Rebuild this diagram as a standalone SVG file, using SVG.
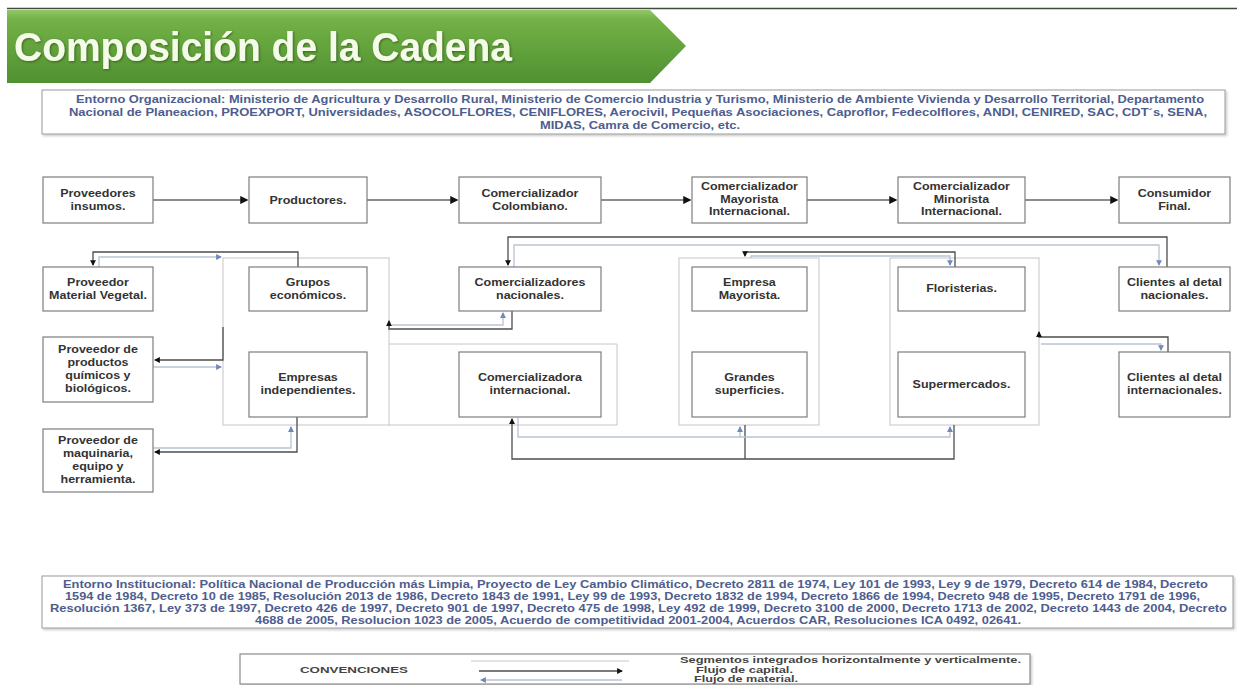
<svg xmlns="http://www.w3.org/2000/svg" width="1237" height="685" viewBox="0 0 1237 685">
<defs>
<linearGradient id="g" x1="0" y1="0" x2="0" y2="1">
<stop offset="0" stop-color="#93c76a"/>
<stop offset="0.12" stop-color="#74b247"/>
<stop offset="1" stop-color="#4f9030"/>
</linearGradient>
<filter id="ts" x="-5%" y="-20%" width="110%" height="140%"><feDropShadow dx="1" dy="1" stdDeviation="0.8" flood-color="#2b4a17" flood-opacity="0.7"/></filter>
<filter id="bs" x="-5%" y="-20%" width="110%" height="140%"><feDropShadow dx="1.5" dy="1.5" stdDeviation="1" flood-color="#000" flood-opacity="0.22"/></filter>
<marker id="cap" viewBox="0 0 6 6" refX="5" refY="3" markerWidth="4.5" markerHeight="4.5" orient="auto"><path d="M0,0 L6,3 L0,6 z" fill="#111"/></marker>
<marker id="mat" viewBox="0 0 6 6" refX="5" refY="3" markerWidth="4.5" markerHeight="4.5" orient="auto"><path d="M0,0 L6,3 L0,6 z" fill="#6f89b9"/></marker>
<style>
.n rect{fill:#fff;stroke:#7d7d7d;stroke-width:1.2}
.n text{font-family:"Liberation Sans",Arial,sans-serif;font-weight:bold;font-size:10px;fill:#333;text-anchor:middle;transform-box:fill-box;transform-origin:center;transform:scaleX(1.25)}
.k{fill:none;stroke:#c6c6c6;stroke-width:1}
.cap{fill:none;stroke:#4d4d4d;stroke-width:1.3;marker-end:url(#cap)}
.capn{fill:none;stroke:#4d4d4d;stroke-width:1.3}
.mat{fill:none;stroke:#b9c3d3;stroke-width:1.3;marker-end:url(#mat)}
.flow{fill:none;stroke:#8c8c8c;stroke-width:1.8;marker-end:url(#cap)}
.env rect{fill:#fff;stroke:#9a9a9a;stroke-width:1}
.env text{font-family:"Liberation Sans",Arial,sans-serif;font-weight:bold;font-size:10px;fill:#4e5d8e;text-anchor:middle}
.lg text{font-family:"Liberation Sans",Arial,sans-serif;font-weight:bold;font-size:8.3px;fill:#444}
</style>
</defs>
<rect width="1237" height="685" fill="#fff"/>

<g id="title">
<line x1="7" y1="8.5" x2="1237" y2="8.5" stroke="#3f4d3a" stroke-width="1.5"/>
<polygon points="7,10 650,10 686,46 650,83 7,83" fill="url(#g)"/>
<text x="14" y="61" font-family="'Liberation Sans',Arial,sans-serif" font-weight="bold" font-size="40" fill="#f4fbe8" textLength="498" lengthAdjust="spacingAndGlyphs" filter="url(#ts)">Composición de la Cadena</text>
</g>

<g id="entorno-organizacional" class="env">
<rect x="42" y="90" width="1183" height="44" filter="url(#bs)"/>
<text x="640" y="103" textLength="1128" lengthAdjust="spacingAndGlyphs">Entorno Organizacional: Ministerio de Agricultura y Desarrollo Rural, Ministerio de Comercio Industria y Turismo, Ministerio de Ambiente Vivienda y Desarrollo Territorial, Departamento</text>
<text x="638" y="116" textLength="1138" lengthAdjust="spacingAndGlyphs">Nacional de Planeacion, PROEXPORT, Universidades, ASOCOLFLORES, CENIFLORES, Aerocivil, Pequeñas Asociaciones, Caproflor, Fedecolflores, ANDI, CENIRED, SAC, CDT´s, SENA,</text>
<text x="640" y="129" textLength="200" lengthAdjust="spacingAndGlyphs">MIDAS, Camra de Comercio, etc.</text>
</g>

<g id="containers">
<rect class="k" x="223" y="258" width="166" height="167"/>
<polyline class="k" points="389,344 617,344 617,425 389,425"/>
<rect class="k" x="679" y="258" width="140" height="167"/>
<rect class="k" x="890" y="258" width="149" height="167"/>
</g>

<g id="connectors">
<path class="flow" d="M153 200 H247"/>
<path class="flow" d="M367 200 H457"/>
<path class="flow" d="M601 200 H690"/>
<path class="flow" d="M807 200 H896"/>
<path class="flow" d="M1025 200 H1117"/>

<path class="cap" d="M298 267 V252 H93 V265"/>
<path class="mat" d="M99 267 V257 H221"/>
<path class="cap" d="M223 327 V360 H155"/>
<path class="mat" d="M153 367 H221"/>
<path class="cap" d="M297 417 V452 H155"/>
<path class="mat" d="M153 448 H291 V427"/>
<path class="cap" d="M512 311 V329 H389 V321"/>
<path class="mat" d="M392 325 H503 V313"/>
<path class="cap" d="M1167 267 V237 H508 V265"/>
<path class="mat" d="M514 267 V245 H1159 V265"/>
<path class="cap" d="M955 267 V252 H745 V256"/>
<path class="mat" d="M751 258 V256 H950 V265"/>
<path class="cap" d="M1168 352 V337 H1039 V332"/>
<path class="mat" d="M1041 344 H1161 V350"/>
<path class="cap" d="M954 425 V459 H512 V419"/>
<path class="capn" d="M745 425 V459"/>
<path class="mat" d="M518 418 V437 H950 V427"/>
<path class="mat" d="M740 437 V427"/>
</g>

<g id="n-proveedores-insumos" class="n"><rect x="43" y="177" width="110" height="46"/><text x="98" y="197">Proveedores</text><text x="98" y="210">insumos.</text></g>
<g id="n-productores" class="n"><rect x="249" y="177" width="118" height="46"/><text x="308" y="204">Productores.</text></g>
<g id="n-comercializador-colombiano" class="n"><rect x="459" y="177" width="142" height="46"/><text x="530" y="197">Comercializador</text><text x="530" y="210">Colombiano.</text></g>
<g id="n-mayorista-int" class="n"><rect x="692" y="177" width="115" height="46"/><text x="749.5" y="190.5">Comercializador</text><text x="749.5" y="203">Mayorista</text><text x="749.5" y="215.5">Internacional.</text></g>
<g id="n-minorista-int" class="n"><rect x="898" y="177" width="127" height="46"/><text x="961.5" y="190.5">Comercializador</text><text x="961.5" y="203">Minorista</text><text x="961.5" y="215.5">Internacional.</text></g>
<g id="n-consumidor-final" class="n"><rect x="1119" y="177" width="111" height="46"/><text x="1174.5" y="197">Consumidor</text><text x="1174.5" y="210">Final.</text></g>

<g id="n-proveedor-mv" class="n"><rect x="43" y="267" width="110" height="44"/><text x="98" y="286">Proveedor</text><text x="98" y="299">Material Vegetal.</text></g>
<g id="n-grupos" class="n"><rect x="249" y="267" width="118" height="44"/><text x="308" y="286">Grupos</text><text x="308" y="299">económicos.</text></g>
<g id="n-com-nacionales" class="n"><rect x="459" y="267" width="142" height="44"/><text x="530" y="286">Comercializadores</text><text x="530" y="299">nacionales.</text></g>
<g id="n-empresa-mayorista" class="n"><rect x="692" y="267" width="115" height="44"/><text x="749.5" y="286">Empresa</text><text x="749.5" y="299">Mayorista.</text></g>
<g id="n-floristerias" class="n"><rect x="898" y="267" width="127" height="44"/><text x="961.5" y="292.5">Floristerias.</text></g>
<g id="n-clientes-nac" class="n"><rect x="1119" y="267" width="111" height="44"/><text x="1174.5" y="286">Clientes al detal</text><text x="1174.5" y="299">nacionales.</text></g>

<g id="n-proveedor-quimicos" class="n"><rect x="43" y="337" width="110" height="65"/><text x="98" y="353.5">Proveedor de</text><text x="98" y="366.5">productos</text><text x="98" y="379.5">químicos y</text><text x="98" y="392.5">biológicos.</text></g>
<g id="n-empresas-ind" class="n"><rect x="249" y="352" width="118" height="65"/><text x="308" y="381">Empresas</text><text x="308" y="394">independientes.</text></g>
<g id="n-com-internacional" class="n"><rect x="459" y="352" width="142" height="65"/><text x="530" y="381">Comercializadora</text><text x="530" y="394">internacional.</text></g>
<g id="n-grandes" class="n"><rect x="692" y="352" width="115" height="65"/><text x="749.5" y="381">Grandes</text><text x="749.5" y="394">superficies.</text></g>
<g id="n-supermercados" class="n"><rect x="898" y="352" width="127" height="65"/><text x="961.5" y="388">Supermercados.</text></g>
<g id="n-clientes-int" class="n"><rect x="1119" y="352" width="111" height="65"/><text x="1174.5" y="381">Clientes al detal</text><text x="1174.5" y="394">internacionales.</text></g>

<g id="n-proveedor-maquinaria" class="n"><rect x="43" y="429" width="110" height="63"/><text x="98" y="444.5">Proveedor de</text><text x="98" y="457.5">maquinaria,</text><text x="98" y="470.5">equipo y</text><text x="98" y="483.5">herramienta.</text></g>

<g id="entorno-institucional" class="env">
<rect x="42" y="576" width="1191" height="52" filter="url(#bs)"/>
<text x="635.5" y="588" textLength="1145" lengthAdjust="spacingAndGlyphs">Entorno Institucional: Política Nacional de Producción más Limpia, Proyecto de Ley Cambio Climático, Decreto 2811 de 1974, Ley 101 de 1993, Ley 9 de 1979, Decreto 614 de 1984,  Decreto</text>
<text x="632.5" y="600" textLength="1135" lengthAdjust="spacingAndGlyphs">1594 de 1984, Decreto 10 de 1985, Resolución 2013 de 1986, Decreto 1843 de 1991, Ley 99 de 1993, Decreto 1832 de 1994, Decreto 1866 de 1994, Decreto 948 de 1995, Decreto 1791 de 1996,</text>
<text x="638.5" y="612" textLength="1177" lengthAdjust="spacingAndGlyphs">Resolución 1367, Ley 373 de 1997, Decreto 426 de 1997, Decreto 901 de 1997, Decreto 475 de 1998, Ley 492 de 1999, Decreto 3100 de 2000, Decreto 1713 de 2002, Decreto 1443 de 2004, Decreto</text>
<text x="638" y="624" textLength="766" lengthAdjust="spacingAndGlyphs">4688 de 2005, Resolucion 1023 de 2005, Acuerdo de competitividad 2001-2004, Acuerdos CAR, Resoluciones ICA 0492, 02641.</text>
</g>

<g id="legend" class="lg">
<rect x="240" y="654" width="790" height="30" fill="#fff" stroke="#777" stroke-width="1" filter="url(#bs)"/>
<text x="354" y="673" text-anchor="middle" font-size="9" textLength="108" lengthAdjust="spacingAndGlyphs">CONVENCIONES</text>
<line x1="471" y1="661" x2="629" y2="661" stroke="#c8c8c8" stroke-width="1"/>
<path class="cap" d="M479 671 H622"/>
<path class="mat" d="M622 680 H481"/>
<text x="680" y="663" textLength="341" lengthAdjust="spacingAndGlyphs">Segmentos integrados horizontalmente y verticalmente.</text>
<text x="696" y="672.5" textLength="97" lengthAdjust="spacingAndGlyphs">Flujo de capital.</text>
<text x="694" y="682" textLength="104" lengthAdjust="spacingAndGlyphs">Flujo de material.</text>
</g>
</svg>
